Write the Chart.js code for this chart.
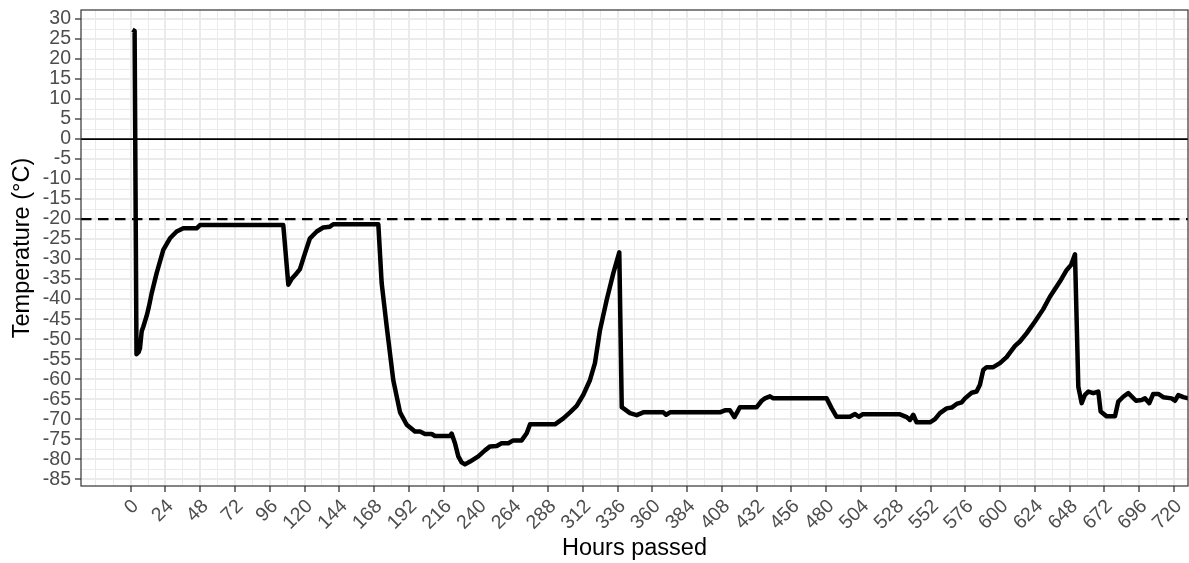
<!DOCTYPE html>
<html>
<head>
<meta charset="utf-8">
<title>Temperature over time</title>
<script src="https://cdn.jsdelivr.net/npm/chart.js@4.4.1/dist/chart.umd.min.js"></script>
<style>
  html, body { margin: 0; padding: 0; background: #fff; }
  #wrap { width: 1189px; height: 563px; }
</style>
</head>
<body>
<div id="wrap"><canvas id="tempChart" width="1189" height="563"></canvas></div>
<script>
// ==================== DATA ====================

const hours = [
  1.2, 2.7, 4.0, 5.5, 6.4, 7.6, 8.7, 11.0, 12.5, 14.5, 17.9, 22.5, 27.1, 31.7, 36.3, 45.5, 47.8,
  105.3, 108.8, 111.0, 113.5, 116.8, 120.3, 123.7, 128.4, 132.9, 137.5, 139.8,
  170.9, 173.2, 176.7, 181.2, 185.9, 190.5, 196.2, 199.7, 203.1, 207.7, 210.0,
  220.4, 221.5, 223.8, 226.1, 228.4, 230.7, 234.2, 239.9, 244.5, 248.0, 252.6, 256.0, 260.6, 264.0, 269.8,
  273.3, 275.6, 292.8, 298.6, 303.2, 307.8, 312.4, 317.0, 320.4, 323.9, 328.5, 333.1, 337.2,
  338.9, 344.6, 349.2, 353.8, 367.6, 369.5, 372.2, 406.7, 410.1, 413.6, 416.7, 420.5, 432.0,
  435.5, 437.7, 441.2, 443.5, 480.3, 483.8, 487.2, 496.4, 499.9, 502.5, 505.0, 530.9,
  535.6, 537.8, 540.1, 542.4, 551.6, 555.1, 558.5, 563.1, 566.6, 570.0, 573.5, 575.8, 580.4, 583.8,
  586.1, 588.4, 590.7, 595.3, 599.9, 604.5, 610.3, 613.7, 618.4, 624.1, 629.8, 634.4, 641.3, 646.0, 649.0, 651.7,
  654.0, 656.3, 658.6, 660.9, 664.3, 667.8, 669.4, 673.6, 679.3, 681.6, 685.0, 688.5, 693.8, 697.7, 700.0,
  703.0, 705.7, 709.2, 712.6, 718.4, 720.7, 723.0, 726.5, 729.9
];

const temps = [
  27.3, 27.0, -53.8, -53.2, -52.3, -48.0, -46.9, -44.2, -42.0, -38.5, -33.5, -27.7, -24.8, -23.1, -22.3, -22.3, -21.5,
  -21.5, -36.4, -35.0, -34.0, -32.5, -28.5, -24.8, -23.1, -22.1, -21.9, -21.3,
  -21.3, -36.0, -46.9, -60.2, -68.3, -71.4, -73.1, -73.1, -73.7, -73.7, -74.2,
  -74.2, -73.6, -76.0, -79.3, -80.8, -81.3, -80.6, -79.3, -77.8, -76.8, -76.7, -76.0, -76.0, -75.3, -75.3,
  -73.5, -71.3, -71.3, -69.8, -68.3, -66.7, -63.9, -60.2, -56.0, -47.7, -40.2, -33.5, -28.3,
  -67.0, -68.5, -69.0, -68.3, -68.3, -68.9, -68.3, -68.3, -67.8, -67.8, -69.5, -67.0, -67.0,
  -65.4, -64.8, -64.3, -64.8, -64.8, -67.3, -69.4, -69.4, -68.7, -69.4, -68.8, -68.8,
  -69.5, -70.2, -68.9, -70.8, -70.8, -70.0, -68.5, -67.3, -67.1, -66.2, -65.8, -64.8, -63.4, -63.1,
  -61.4, -57.7, -57.0, -57.0, -56.0, -54.5, -51.7, -50.6, -48.5, -45.6, -42.5, -39.4, -35.6, -32.7, -31.5, -28.8,
  -61.9, -66.0, -63.9, -63.1, -63.5, -63.1, -68.1, -69.3, -69.3, -65.6, -64.4, -63.5, -65.4, -65.2, -64.8,
  -66.0, -63.7, -63.7, -64.5, -64.8, -65.4, -64.0, -64.5, -64.8
];

// labelled axis breaks
const xBreaks = [0, 24, 48, 72, 96, 120, 144, 168, 192, 216, 240, 264, 288, 312, 336, 360,
  384, 408, 432, 456, 480, 504, 528, 552, 576, 600, 624, 648, 672, 696, 720];
const yBreaks = [-85, -80, -75, -70, -65, -60, -55, -50, -45, -40, -35, -30, -25, -20, -15,
  -10, -5, 0, 5, 10, 15, 20, 25, 30];

// reference lines
const zeroLine = 0;
const limitLine = -20;

// visible axis range
const xRange = [-34.3, 729.7];
const yRange = [-86.7, 32.25];

// ==================== HELPERS ====================

// major breaks plus the midpoints between them (ggplot-style minor grid)
function withMinor(breaks, lo, hi) {
  const step = breaks[1] - breaks[0];
  const ext = [breaks[0] - step, ...breaks, breaks[breaks.length - 1] + step];
  const out = [];
  for (let i = 0; i < ext.length; i++) {
    out.push(ext[i]);
    if (i < ext.length - 1) out.push((ext[i] + ext[i + 1]) / 2);
  }
  return out.filter(v => v >= lo && v <= hi);
}

function isMajor(breaks, v) {
  return breaks.some(b => Math.abs(b - v) < 1e-6);
}

function hline(y, width, dash) {
  return {
    data: [{ x: xRange[0], y }, { x: xRange[1], y }],
    borderColor: '#000',
    borderWidth: width,
    borderDash: dash,
    pointRadius: 0,
    tension: 0,
    order: 2
  };
}

// fixed axis boxes so the panel sits where the reference has it
function fixBox(size, key) {
  return s => {
    s[key] = size;
    s.paddingTop = 0; s.paddingBottom = 0; s.paddingLeft = 0; s.paddingRight = 0;
  };
}

const panelBorder = {
  id: 'panelBorder',
  afterDraw(chart) {
    const { ctx, chartArea: a } = chart;
    ctx.save();
    ctx.strokeStyle = '#333333';
    ctx.lineWidth = 1.2;
    ctx.strokeRect(a.left, a.top, a.right - a.left, a.bottom - a.top);
    ctx.restore();
  }
};

const tickFont = { family: "'Liberation Sans', Arial, sans-serif", size: 19.5 };
const titleFont = { family: "'Liberation Sans', Arial, sans-serif", size: 23.5 };

// ==================== CHART ====================

function renderTempChart() {
  const ctx = document.getElementById('tempChart');
  const points = hours.map((h, i) => ({ x: h, y: temps[i] }));

  new Chart(ctx, {
    type: 'line',
    data: {
      datasets: [
        {
          data: points,
          borderColor: '#000',
          borderWidth: 4.5,
          borderJoinStyle: 'round',
          pointRadius: 0,
          tension: 0,
          order: 1
        },
        hline(zeroLine, 1.7, []),
        hline(limitLine, 2.4, [10.5, 6.5])
      ]
    },
    options: {
      responsive: false,
      animation: false,
      events: [],
      layout: { padding: { top: 10, right: 1, left: 0, bottom: 0 } },
      plugins: { legend: { display: false }, tooltip: { enabled: false } },
      scales: {
        x: {
          type: 'linear',
          min: xRange[0],
          max: xRange[1],
          afterBuildTicks: s => { s.ticks = withMinor(xBreaks, xRange[0], xRange[1]).map(v => ({ value: v })); },
          afterFit: fixBox(77, 'height'),
          border: { display: false },
          grid: {
            color: '#ebebeb',
            lineWidth: c => isMajor(xBreaks, c.tick.value) ? 2 : 1,
            tickColor: c => isMajor(xBreaks, c.tick.value) ? '#333333' : 'rgba(0,0,0,0)',
            tickWidth: 1.3,
            tickLength: 6
          },
          ticks: {
            autoSkip: false,
            minRotation: 45,
            maxRotation: 45,
            padding: 3,
            labelOffset: 5,
            color: '#4d4d4d',
            font: tickFont,
            callback: v => isMajor(xBreaks, v) ? String(v) : ''
          },
          title: {
            display: true,
            text: 'Hours passed',
            color: '#000',
            font: titleFont,
            padding: { top: 0, bottom: 0 }
          }
        },
        y: {
          type: 'linear',
          min: yRange[0],
          max: yRange[1],
          afterBuildTicks: s => { s.ticks = withMinor(yBreaks, yRange[0], yRange[1]).map(v => ({ value: v })); },
          afterFit: fixBox(81, 'width'),
          border: { display: false },
          grid: {
            color: '#ebebeb',
            lineWidth: c => isMajor(yBreaks, c.tick.value) ? 2 : 1,
            tickColor: c => isMajor(yBreaks, c.tick.value) ? '#333333' : 'rgba(0,0,0,0)',
            tickWidth: 1.3,
            tickLength: 6
          },
          ticks: {
            autoSkip: false,
            padding: 4,
            color: '#4d4d4d',
            font: tickFont,
            callback: v => isMajor(yBreaks, v) ? String(v) : ''
          },
          title: {
            display: true,
            text: 'Temperature (°C)',
            color: '#000',
            font: titleFont,
            padding: { top: 8, bottom: 0 }
          }
        }
      }
    },
    plugins: [panelBorder]
  });
}

renderTempChart();
</script>
</body>
</html>
